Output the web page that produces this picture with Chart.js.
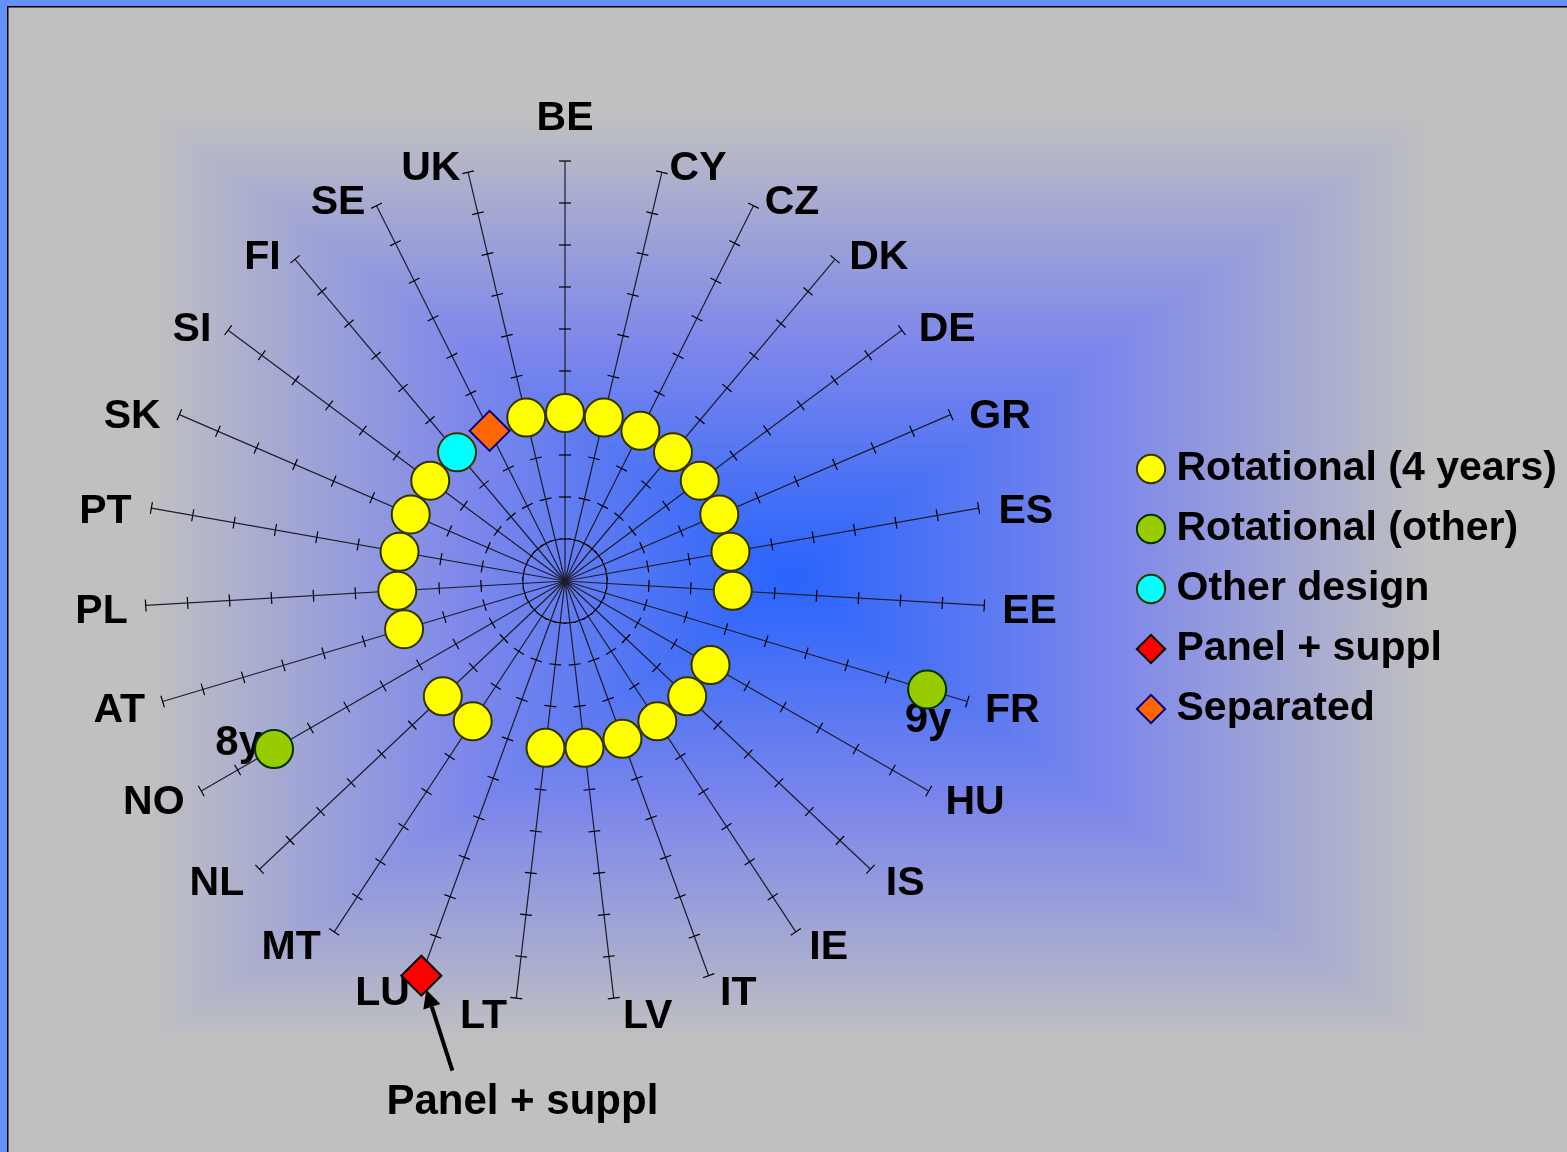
<!DOCTYPE html>
<html>
<head>
<meta charset="utf-8">
<title>Survey design by country</title>
<script src="https://cdn.jsdelivr.net/npm/chart.js@4.4.1/dist/chart.umd.min.js"></script>
<style>
	html, body { margin: 0; padding: 0; background: #c0c0c0; overflow: hidden; }
	canvas { display: block; }
</style>
</head>
<body>
<canvas id="designChart" width="1567" height="1152"></canvas>
<script>
// Countries, one spoke each, clockwise from the top
const countries = ['BE', 'CY', 'CZ', 'DK', 'DE', 'GR', 'ES', 'EE', 'FR', 'HU', 'IS', 'IE', 'IT', 'LV',
	'LT', 'LU', 'MT', 'NL', 'NO', 'AT', 'PL', 'PT', 'SK', 'SI', 'FI', 'SE', 'UK'];

// Years per design (null = country not in that group)
const rotational4 = [4, 4, 4, 4, 4, 4, 4, 4, null, 4, 4, 4, 4, 4,
	4, null, 4, 4, null, 4, 4, 4, 4, 4, null, null, 4];
const rotationalOther = [null, null, null, null, null, null, null, null, 9, null, null, null, null, null,
	null, null, null, null, 8, null, null, null, null, null, null, null, null];
const otherDesign = [null, null, null, null, null, null, null, null, null, null, null, null, null, null,
	null, null, null, null, null, null, null, null, null, null, 4, null, null];
const panelSuppl = [null, null, null, null, null, null, null, null, null, null, null, null, null, null,
	null, 10, null, null, null, null, null, null, null, null, null, null, null];
const separated = [null, null, null, null, null, null, null, null, null, null, null, null, null, null,
	null, null, null, null, null, null, null, null, null, null, null, 4, null];

// Text next to the "other" rotational points
const rotationalOtherText = [null, null, null, null, null, null, null, null, '9y', null, null, null, null, null,
	null, null, null, null, '8y', null, null, null, null, null, null, null, null];

// Radial axis
const scaleMin = 0;
const scaleMax = 10;
const annotationText = 'Panel + suppl';

const FONT = '"Liberation Sans", Arial, sans-serif';

// Colour of the slide gradient at relative distance t (0 centre, 1 edge)
function blendColor(t) {
	const stops = [[0, [40, 100, 252]], [0.5, [125, 135, 235]], [1, [192, 192, 193]]];
	let a = stops[0], b = stops[1];
	if (t > 0.5) { a = stops[1]; b = stops[2]; }
	const f = (t - a[0]) / (b[0] - a[0]);
	const c = a[1].map((v, k) => Math.round(v + (b[1][k] - v) * f));
	return 'rgb(' + c.join(',') + ')';
}

// Slide background with frame
const backgroundPlugin = {
	id: 'slideBackground',
	beforeDraw(chart) {
		const ctx = chart.ctx;
		const w = chart.width, h = chart.height;
		ctx.save();
		ctx.fillStyle = '#6491fd';
		ctx.fillRect(0, 0, w, h);
		ctx.fillStyle = 'rgb(192,192,193)';
		ctx.fillRect(8, 7, w - 8, h - 7);
		const cx = 790, cy = 577, hw = 640, hh = 462;
		const steps = 300;
		for (let k = steps; k > 0; k--) {
			const t = k / steps;
			ctx.fillStyle = blendColor(t);
			ctx.fillRect(cx - hw * t, cy - hh * t, 2 * hw * t, 2 * hh * t);
		}
		ctx.fillStyle = '#000';
		ctx.fillRect(7, 6, w - 7, 1.5);
		ctx.fillRect(7, 6, 1.5, h - 6);
		ctx.restore();
	}
};

// Tick marks on every spoke, country names, year labels
const spokePlugin = {
	id: 'spokeDecor',
	beforeDatasetsDraw(chart) {
		const scale = chart.scales.r;
		const ctx = chart.ctx;
		ctx.save();

		// small marks across each spoke at every unit
		ctx.strokeStyle = '#000';
		ctx.lineWidth = 1.2;
		countries.forEach((name, i) => {
			const theta = scale.getIndexAngle(i);
			const nx = Math.cos(theta), ny = Math.sin(theta);
			for (let v = scaleMin + 1; v <= scaleMax; v++) {
				const p = scale.getPointPosition(i, scale.getDistanceFromCenterForValue(v));
				ctx.beginPath();
				ctx.moveTo(p.x - nx * 6, p.y - ny * 6);
				ctx.lineTo(p.x + nx * 6, p.y + ny * 6);
				ctx.stroke();
			}
		});

		// country names at the spoke ends
		const size = 41;
		const capHalf = 0.358 * size;
		ctx.fillStyle = '#000';
		ctx.font = 'bold ' + size + 'px ' + FONT;
		ctx.textBaseline = 'alphabetic';
		countries.forEach((name, i) => {
			const theta = scale.getIndexAngle(i);
			const s = Math.sin(theta), c = Math.cos(theta);
			const end = scale.getPointPosition(i, scale.getDistanceFromCenterForValue(scaleMax));
			let x, y;
			if (Math.abs(s) < 0.05) {
				ctx.textAlign = 'center';
				x = end.x;
				y = end.y - 31;
			} else {
				ctx.textAlign = s > 0 ? 'left' : 'right';
				const gap = c > 0 ? 4 + 16 * Math.abs(s) : 8 + 10 * Math.abs(s);
				x = end.x + Math.sign(s) * gap;
				const dy = c > 0 ? 2 - 9 * c : 2 - 13 * c;
				y = end.y + dy + capHalf;
			}
			ctx.fillText(name, x, y);
		});

		// year labels for the "other" rotational points
		const meta = chart.getDatasetMeta(1);
		ctx.font = 'bold 42px ' + FONT;
		rotationalOtherText.forEach((txt, i) => {
			if (!txt) return;
			const pt = meta.data[i];
			if (pt.x > scale.xCenter) {
				ctx.textAlign = 'center';
				ctx.fillText(txt, pt.x + 1, pt.y + 43);
			} else {
				ctx.textAlign = 'right';
				ctx.fillText(txt, pt.x - 12, pt.y + 6);
			}
		});
		ctx.restore();
	},
	afterDatasetsDraw(chart) {
		// arrow and note for the panel point
		const ctx = chart.ctx;
		const meta = chart.getDatasetMeta(3);
		const idx = panelSuppl.findIndex(v => v !== null);
		const pt = meta.data[idx];
		const tip = { x: pt.x + 5, y: pt.y + 14 };
		const tail = { x: pt.x + 31, y: pt.y + 95 };
		const ang = Math.atan2(tip.y - tail.y, tip.x - tail.x);
		const headLen = 18, headHalf = 9;
		const bx = tip.x - Math.cos(ang) * headLen, by = tip.y - Math.sin(ang) * headLen;
		ctx.save();
		ctx.strokeStyle = '#000';
		ctx.fillStyle = '#000';
		ctx.lineWidth = 4;
		ctx.beginPath();
		ctx.moveTo(tail.x, tail.y);
		ctx.lineTo(bx, by);
		ctx.stroke();
		ctx.beginPath();
		ctx.moveTo(tip.x, tip.y);
		ctx.lineTo(bx - Math.sin(ang) * headHalf, by + Math.cos(ang) * headHalf);
		ctx.lineTo(bx + Math.sin(ang) * headHalf, by - Math.cos(ang) * headHalf);
		ctx.closePath();
		ctx.fill();
		ctx.font = 'bold 42px ' + FONT;
		ctx.textAlign = 'center';
		ctx.textBaseline = 'alphabetic';
		ctx.fillText(annotationText, pt.x + 101, pt.y + 138);
		ctx.restore();
	}
};

// One dataset per design type, markers only
function makeSeries(label, data, style, fill, border, radius) {
	return {
		label: label,
		data: data,
		showLine: false,
		fill: false,
		clip: false,
		pointStyle: style,
		pointRadius: radius,
		pointHoverRadius: radius,
		pointBackgroundColor: fill,
		pointBorderColor: border,
		pointBorderWidth: 2,
		backgroundColor: fill,
		borderColor: border
	};
}

const ctx = document.getElementById('designChart').getContext('2d');
const designChart = new Chart(ctx, {
	type: 'radar',
	data: {
		labels: countries,
		datasets: [
			makeSeries('Rotational (4 years)', rotational4, 'circle', '#ffff00', '#333300', 19),
			makeSeries('Rotational (other)', rotationalOther, 'circle', '#99cc00', '#003300', 19),
			makeSeries('Other design', otherDesign, 'circle', '#00ffff', '#333300', 19),
			makeSeries('Panel + suppl', panelSuppl, 'rectRot', '#ff0000', '#000000', 20),
			makeSeries('Separated', separated, 'rectRot', '#ff6600', '#000080', 20)
		]
	},
	options: {
		responsive: false,
		devicePixelRatio: 1,
		animation: false,
		events: [],
		layout: { padding: { top: 26, right: 0 } },
		scales: {
			r: {
				min: scaleMin,
				max: scaleMax,
				ticks: { display: false, stepSize: 1 },
				grid: { display: false },
				angleLines: { display: true, color: '#1c1c2c', lineWidth: 1.2 },
				pointLabels: { display: false },
				afterFit: function(scale) {
					scale.xCenter = 565;
					scale.yCenter = 581;
					scale.drawingArea = 420;
				}
			}
		},
		plugins: {
			legend: {
				position: 'right',
				labels: {
					usePointStyle: true,
					boxWidth: 10,
					boxHeight: 20,
					padding: 19,
					color: '#000',
					font: { family: FONT, size: 41, weight: 'bold' }
				}
			},
			tooltip: { enabled: false }
		}
	},
	plugins: [backgroundPlugin, spokePlugin]
});
</script>
</body>
</html>
